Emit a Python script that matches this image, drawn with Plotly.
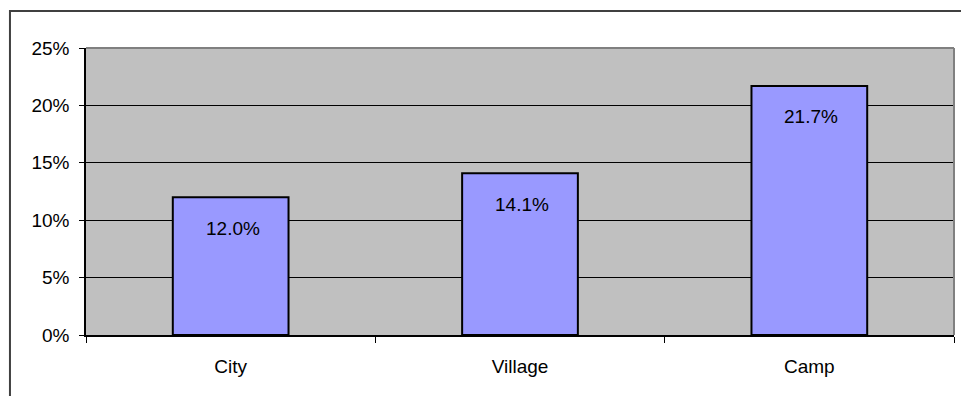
import plotly.graph_objects as go

# Share by type of locality
categories = ["City", "Village", "Camp"]
shares = [12.0, 14.1, 21.7]
tick_values = [0, 5, 10, 15, 20, 25]
tick_labels = ["0%", "5%", "10%", "15%", "20%", "25%"]

FONT = "Liberation Sans, Arial, sans-serif"

fig = go.Figure(
    go.Bar(
        x=categories,
        y=shares,
        width=0.4,
        marker=dict(color="#9999FF", line=dict(color="#000000", width=2)),
        hoverinfo="skip",
    )
)

# value labels just inside the top of each bar
for cat, val in zip(categories, shares):
    fig.add_annotation(
        x=cat, y=val, text=f"{val:.1f}%", showarrow=False,
        yanchor="middle", yshift=-31, xshift=2,
        font=dict(family=FONT, size=19, color="#000000"),
    )

# outer chart frame
fig.add_shape(type="rect", xref="paper", yref="paper",
              x0=-0.0876, y0=-0.5, x1=1.2, y1=1.129,
              line=dict(color="#404040", width=2), layer="below")
# plot-area frame on top and right
fig.add_shape(type="line", xref="paper", yref="paper", x0=0, y0=1, x1=1, y1=1,
              line=dict(color="#808080", width=2))
fig.add_shape(type="line", xref="paper", yref="paper", x0=1, y0=0, x1=1, y1=1,
              line=dict(color="#808080", width=2))

fig.update_layout(
    width=961, height=396,
    margin=dict(l=86, r=7, t=48, b=61),
    paper_bgcolor="#FFFFFF",
    plot_bgcolor="#C0C0C0",
    showlegend=False,
    font=dict(family=FONT, size=19, color="#000000"),
    xaxis=dict(
        type="category", range=[-0.5, 2.5],
        tickson="boundaries", ticks="outside", ticklen=6, tickcolor="#000000",
        showline=True, linecolor="#000000", linewidth=1.5,
        showgrid=False, tickfont=dict(size=19), ticklabelstandoff=13,
    ),
    yaxis=dict(
        range=[0, 25], tickvals=tick_values, ticktext=tick_labels,
        ticks="outside", ticklen=5, tickcolor="#000000",
        showline=True, linecolor="#000000", linewidth=1.5,
        showgrid=True, gridcolor="#000000", gridwidth=1,
        zeroline=False, tickfont=dict(size=19), ticklabelstandoff=6,
    ),
)

fig.write_html("out.html")
